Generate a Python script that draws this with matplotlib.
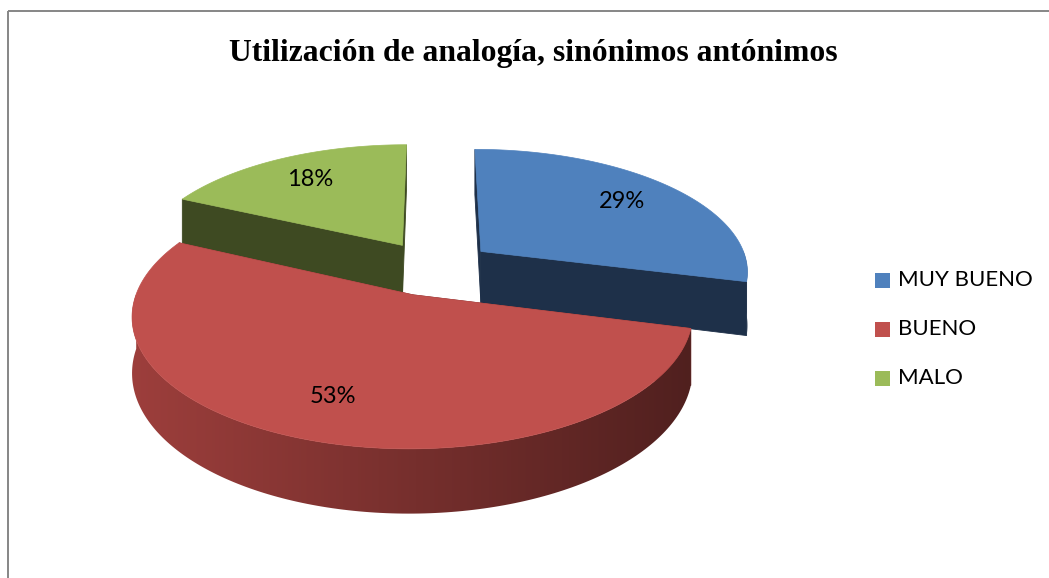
import numpy as np
import matplotlib.pyplot as plt
from matplotlib.patches import Polygon, Rectangle
from matplotlib.colors import to_rgb

categorias = ['MUY BUENO', 'BUENO', 'MALO']
porcentajes = [29, 53, 18]
etiquetas = ['29%', '53%', '18%']
colores_sup = ['#4F81BD', '#C0504D', '#9BBB59']
colores_lado = ['#1E3049', '#762F2D', '#3E4A22']

titulo = 'Utilización de analogía, sinónimos antónimos'

# simple perspective "camera" for the 3D pie (figure pixels)
CX, CY = 434, 268
SX, SY, SZ = 268, 122, 53
PERSP = 0.15
EXPLODE = 0.226


def proj(x, y, z):
    s = 1.0 / (1.0 + PERSP * y)
    return CX + SX * x * s, CY - SY * y * s - SZ * z * s


def shade(c, f):
    return np.clip(np.array(to_rgb(c)) * f, 0, 1)


fig = plt.figure(figsize=(10.49, 5.78), dpi=100)
ax = fig.add_axes([0, 0, 1, 1])
ax.set_xlim(0, 1049)
ax.set_ylim(578, 0)
ax.axis('off')

# chart frame (only top / left edges fall inside the image)
ax.add_patch(Rectangle((7.5, 10.5), 2000, 2000, fill=False,
                       edgecolor='#868686', lw=1.4))

ax.text(533, 61, titulo, ha='center', va='baseline', fontsize=22.8,
        fontweight='bold', family='Liberation Serif')

# slice geometry, Excel style: start at 12 o'clock, clockwise
total = float(sum(porcentajes))
rebanadas = []
inicio = 90.0
for i, p in enumerate(porcentajes):
    span = 360.0 * p / total
    a0, a1 = inicio - span, inicio
    inicio = a0
    m = np.radians((a0 + a1) / 2)
    ox, oy = EXPLODE * np.cos(m), EXPLODE * np.sin(m)
    rebanadas.append((i, a0, a1, ox, oy))

# far slices first
rebanadas.sort(key=lambda r: -r[4])

for i, a0, a1, ox, oy in rebanadas:
    th = np.radians(np.linspace(a0, a1, 200))
    rx = ox + np.cos(th)
    ry = oy + np.sin(th)

    # radial side faces
    caras = []
    for t in (th[0], th[-1]):
        ex, ey = ox + np.cos(t), oy + np.sin(t)
        pts = [proj(ox, oy, 0), proj(ex, ey, 0), proj(ex, ey, -1), proj(ox, oy, -1)]
        caras.append(((oy + ey) / 2, pts))
    caras.sort(key=lambda c: -c[0])
    for _, pts in caras:
        ax.add_patch(Polygon(pts, closed=True, facecolor=colores_lado[i],
                             edgecolor=colores_lado[i], lw=0.6))

    # outer wall (front half), lit from the left on wide walls
    frente = np.sin(th) <= 0.01
    if frente.sum() > 1:
        fx, fy = rx[frente], ry[frente]
        arriba = [proj(x, y, 0) for x, y in zip(fx, fy)]
        abajo = [proj(x, y, -1) for x, y in zip(fx, fy)][::-1]
        pared = Polygon(arriba + abajo, closed=True, facecolor='none',
                        edgecolor='none', zorder=1)
        ax.add_patch(pared)
        xs = np.array([q[0] for q in arriba])
        ys = np.array([q[1] for q in arriba + abajo])
        if np.ptp(np.degrees(th[frente])) > 90:
            luz = np.linspace(1.33, 0.68, 256)
        else:
            luz = np.ones(256)
        grad = np.array([shade(colores_lado[i], v) for v in luz])[None, :, :]
        im = ax.imshow(grad, extent=(xs.min() - 1, xs.max() + 1, ys.max() + 1, ys.min() - 1),
                       aspect='auto', interpolation='bilinear', zorder=1)
        im.set_clip_path(pared)

    top = [proj(ox, oy, 0)] + [proj(x, y, 0) for x, y in zip(rx, ry)]
    ax.add_patch(Polygon(top, closed=True, facecolor=colores_sup[i],
                         edgecolor=colores_sup[i], lw=0.5, zorder=1))

    m = np.radians((a0 + a1) / 2)
    lx, ly = proj(ox + 0.74 * np.cos(m), oy + 0.74 * np.sin(m), 0)
    ax.text(lx, ly, etiquetas[i], ha='center', va='center', fontsize=17,
            family='Lato', color='black', zorder=3)

ax.set_xlim(0, 1049)
ax.set_ylim(578, 0)

# legend
for i, nombre in enumerate(categorias):
    yy = 280 + 49 * i
    ax.add_patch(Rectangle((875, yy - 7.5), 15, 15, facecolor=colores_sup[i],
                           edgecolor='none'))
    ax.text(898, yy, nombre, ha='left', va='center', fontsize=16,
            family='Lato', color='black')

fig.savefig('out.png', dpi=100)
